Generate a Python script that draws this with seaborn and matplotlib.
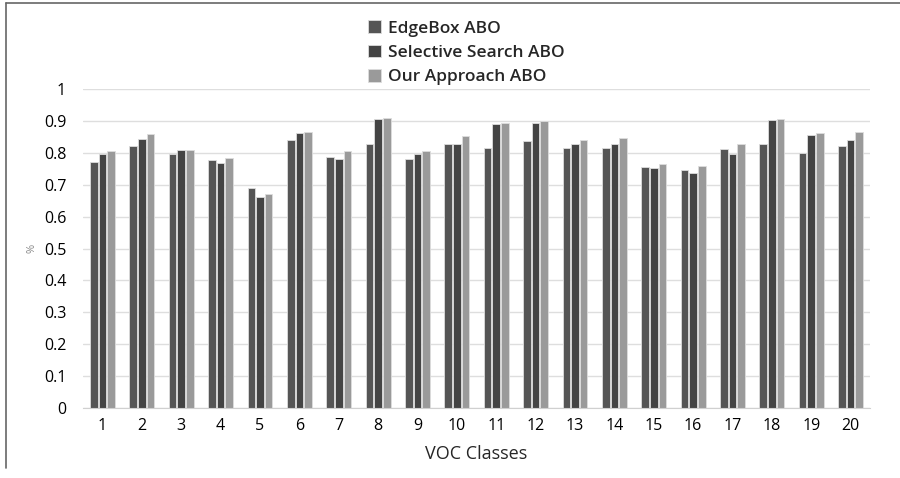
import pandas as pd
import matplotlib
matplotlib.use("Agg")
import matplotlib.pyplot as plt
from matplotlib.lines import Line2D
import seaborn as sb

# VOC class ids and ABO values per method
classes = [str(i) for i in range(1, 21)]
edgebox = [0.770, 0.822, 0.795, 0.778, 0.690, 0.840, 0.787, 0.826, 0.782, 0.826,
           0.816, 0.836, 0.814, 0.814, 0.754, 0.745, 0.813, 0.828, 0.800, 0.820]
selective = [0.795, 0.843, 0.810, 0.767, 0.660, 0.862, 0.782, 0.905, 0.797, 0.828,
             0.890, 0.894, 0.827, 0.827, 0.753, 0.738, 0.796, 0.903, 0.855, 0.841]
ours = [0.806, 0.860, 0.810, 0.783, 0.672, 0.866, 0.806, 0.908, 0.807, 0.853,
        0.893, 0.899, 0.840, 0.845, 0.764, 0.757, 0.828, 0.906, 0.862, 0.866]
methods = ["EdgeBox ABO", "Selective Search ABO", "Our Approach ABO"]
ytick_vals = [0, 0.1, 0.2, 0.3, 0.4, 0.5, 0.6, 0.7, 0.8, 0.9, 1.0]
ytick_labels = ["0", "0.1", "0.2", "0.3", "0.4", "0.5", "0.6", "0.7", "0.8", "0.9", "1"]

df = pd.DataFrame({
    "cls": classes * 3,
    "val": edgebox + selective + ours,
    "method": [methods[0]] * 20 + [methods[1]] * 20 + [methods[2]] * 20,
})

sb.set_style("white")
plt.rcParams["font.family"] = ["Open Sans", "DejaVu Sans"]

fig = plt.figure(figsize=(9, 4.78), dpi=100)
ax = fig.add_axes([0.092, 0.146, 0.875, 0.668])

palette = ["#555555", "#444444", "#9a9a9a"]
sb.barplot(data=df, x="cls", y="val", hue="method", palette=palette,
           width=0.66, gap=0.12, edgecolor="#dddddd", linewidth=0.6,
           saturation=1, ax=ax)

ax.set_ylim(0, 1)
ax.set_xlim(-0.5, 19.5)
ax.set_yticks(ytick_vals)
ax.set_yticklabels(ytick_labels)
ax.yaxis.grid(True, color="#dedede", linewidth=1)
ax.set_axisbelow(True)
for s in ["top", "right", "left"]:
    ax.spines[s].set_visible(False)
ax.spines["bottom"].set_color("#d0d0d0")
ax.tick_params(axis="both", length=0, labelsize=11.5, colors="black")
ax.tick_params(axis="y", pad=12)
ax.tick_params(axis="x", pad=7)
ax.set_xlabel("VOC Classes", fontsize=13, labelpad=8)
ax.set_ylabel("%", fontsize=8, color="#888888")
ax.yaxis.set_label_coords(-0.058, 0.5)

sb.move_legend(ax, "upper left", bbox_to_anchor=(0.392, 0.99),
               bbox_transform=fig.transFigure, frameon=False, title=None,
               prop={"size": 12.5, "weight": "semibold"},
               handlelength=0.75, handleheight=0.75,
               handletextpad=0.35, labelspacing=0.45)

# outer frame lines (top and left) as in the source image
fig.add_artist(Line2D([0.007, 1.0], [0.994, 0.994], color="#666666", lw=1.2,
                      transform=fig.transFigure))
fig.add_artist(Line2D([0.007, 0.007], [0.994, 0.02], color="#666666", lw=1.2,
                      transform=fig.transFigure))

fig.savefig("out.png", dpi=100)
